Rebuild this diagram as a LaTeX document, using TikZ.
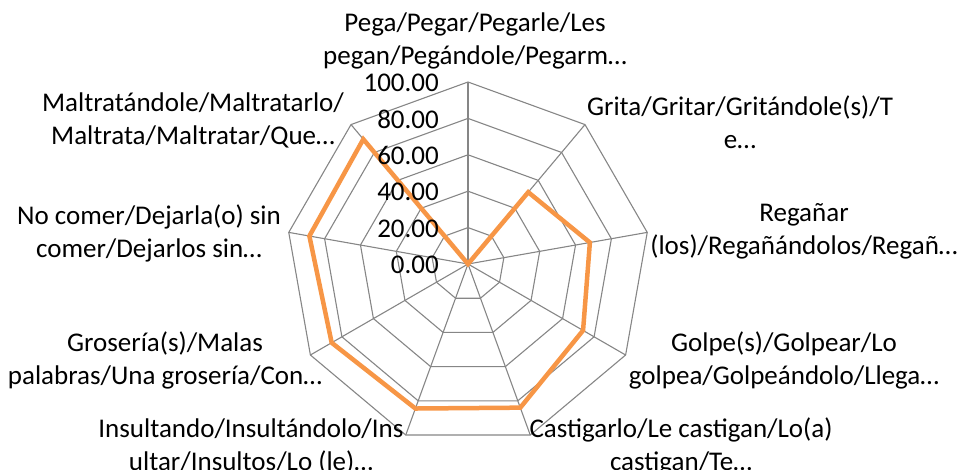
\documentclass[tikz,border=0pt]{standalone}
\usepackage{fontspec}
\setmainfont{Carlito}
\definecolor{gridgray}{HTML}{868686}
\definecolor{seriesorange}{HTML}{F79646}
\begin{document}
\begin{tikzpicture}[x=1pt,y=-1pt,
  gridline/.style={draw=gridgray,line width=1.1pt},
  series/.style={draw=seriesorange,line width=4.5pt,line join=miter},
  catlabel/.style={align=center,inner sep=0pt,font=\fontsize{27}{33}\selectfont},
  ticklabel/.style={anchor=east,inner sep=0pt,font=\fontsize{27}{30}\selectfont}]
\useasboundingbox (0,0) rectangle (960,470);
\def\cx{468}\def\cy{264}\def\R{182}
% rings
\foreach \r in {1,...,5}{
  \draw[gridline] ({\cx+\r*\R/5*sin(0)},{\cy-\r*\R/5*cos(0)})
    \foreach \k in {1,...,8}{ -- ({\cx+\r*\R/5*sin(40*\k)},{\cy-\r*\R/5*cos(40*\k)}) } -- cycle;
}
% spokes
\foreach \k in {0,...,8}{
  \draw[gridline] (\cx,\cy) -- ({\cx+\R*sin(40*\k)},{\cy-\R*cos(40*\k)});
}
% series
\draw[series] ({\cx+0*\R/100*sin(0)},{\cy-0*\R/100*cos(0)})
  -- ({\cx+51.5*\R/100*sin(40)},{\cy-51.5*\R/100*cos(40)})
  -- ({\cx+68*\R/100*sin(80)},{\cy-68*\R/100*cos(80)})
  -- ({\cx+73*\R/100*sin(120)},{\cy-73*\R/100*cos(120)})
  -- ({\cx+84*\R/100*sin(160)},{\cy-84*\R/100*cos(160)})
  -- ({\cx+84.5*\R/100*sin(200)},{\cy-84.5*\R/100*cos(200)})
  -- ({\cx+86.5*\R/100*sin(240)},{\cy-86.5*\R/100*cos(240)})
  -- ({\cx+88.5*\R/100*sin(280)},{\cy-88.5*\R/100*cos(280)})
  -- ({\cx+89.5*\R/100*sin(320)},{\cy-89.5*\R/100*cos(320)})
  -- cycle;
% tick labels
\node[ticklabel] (t0) at (439,{\cy+1}) {0.00};
\node[ticklabel] (t1) at (439,{\cy+1-1*\R/5}) {20.00};
\node[ticklabel] (t2) at (439,{\cy+1-2*\R/5}) {40.00};
\node[ticklabel] (t3) at (439,{\cy+1-3*\R/5}) {60.00};
\node[ticklabel] (t4) at (439,{\cy+1-4*\R/5}) {80.00};
\node[ticklabel] (t5) at (439,{\cy+1-5*\R/5}) {100.00};
% category labels
\node[catlabel] (c1) at (475,41) {Pega/Pegar/Pegarle/Les\\pegan/Pegándole/Pegarm…};
\node[catlabel] (c2) at (740,122) {Grita/Gritar/Gritándole(s)/T\\e…};
\node[catlabel] (c3) at (804,231) {Regañar\\(los)/Regañándolos/Regañ…};
\node[catlabel] (c4) at (784,360) {Golpe(s)/Golpear/Lo\\golpea/Golpeándolo/Llega…};
\node[catlabel] (c5) at (681,446) {Castigarlo/Le castigan/Lo(a)\\castigan/Te…};
\node[catlabel] (c6) at (251,446) {Insultando/Insultándolo/Ins\\ultar/Insultos/Lo (le)…};
\node[catlabel] (c7) at (165,360) {Grosería(s)/Malas\\palabras/Una grosería/Con…};
\node[catlabel] (c8) at (149,233) {No comer/Dejarla(o) sin\\comer/Dejarlos sin…};
\node[catlabel] (c9) at (193,120) {Maltratándole/Maltratarlo/\\Maltrata/Maltratar/Que…};
\end{tikzpicture}
\end{document}
